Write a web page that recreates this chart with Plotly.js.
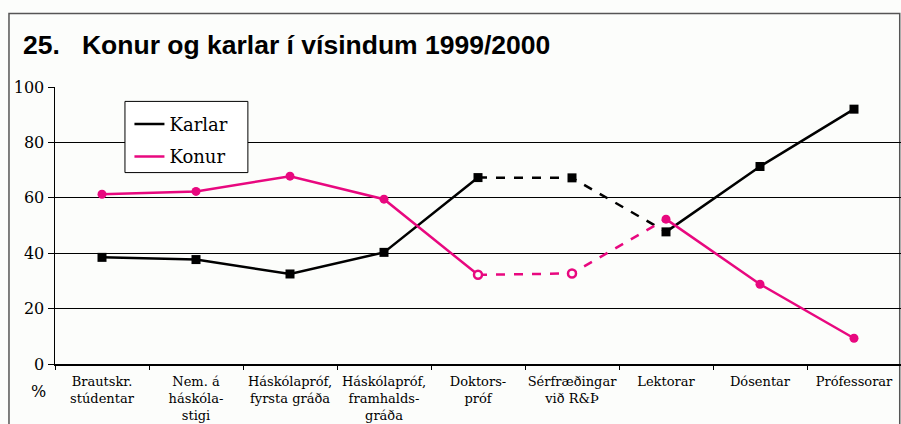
<!DOCTYPE html>
<html><head><meta charset="utf-8">
<script src="https://cdn.plot.ly/plotly-3.0.1.min.js"></script>
<style>html,body{margin:0;padding:0;background:#fcfdfb;}#chart{width:901px;height:424px;}</style>
</head><body><div id="chart"></div>
<script>
const categories = ["Brautskr.<br>stúdentar", "Nem. á<br>háskóla-<br>stigi", "Háskólapróf,<br>fyrsta gráða", "Háskólapróf,<br>framhalds-<br>gráða", "Doktors-<br>próf", "Sérfræðingar<br>við R&Þ", "Lektorar", "Dósentar", "Prófessorar"];
const karlar = [38.5, 37.7, 32.5, 40.3, 67.3, 67.2, 47.7, 71.3, 92.0];
const konur  = [61.3, 62.3, 67.8, 59.5, 32.2, 32.7, 52.3, 28.8, 9.3];
const dashedFrom = 4, dashedTo = 6;   // segment drawn dashed
const openKonur = [4, 5];             // hollow markers for Konur

const BLACK = '#000000', PINK = '#e8087f', BG = '#fcfdfb';
const solid = a => a.map((v,i) => (i > dashedFrom && i < dashedTo) ? null : v);
const dashed = a => a.map((v,i) => (i >= dashedFrom && i <= dashedTo) ? v : null);

const traces = [
  {x: categories, y: solid(karlar), name: 'Karlar', legendgroup: 'k', mode: 'lines', line: {color: BLACK, width: 2.5}, connectgaps: false},
  {x: categories, y: dashed(karlar), name: 'Karlar', mode: 'lines', line: {color: BLACK, width: 2.5, dash: 'dash'}, showlegend: false},
  {x: categories, y: solid(konur), name: 'Konur', legendgroup: 'w', mode: 'lines', line: {color: PINK, width: 2.5}, connectgaps: false},
  {x: categories, y: dashed(konur), name: 'Konur', mode: 'lines', line: {color: PINK, width: 2.5, dash: 'dash'}, showlegend: false},
  {x: categories, y: konur.map((v,i) => openKonur.includes(i) ? null : v), mode: 'markers', showlegend: false,
   marker: {symbol: 'circle', color: PINK, size: 9}},
  {x: categories, y: konur.map((v,i) => openKonur.includes(i) ? v : null), mode: 'markers', showlegend: false,
   marker: {symbol: 'circle', color: BG, size: 8, line: {color: PINK, width: 2.5}}},
  {x: categories, y: karlar, mode: 'markers', showlegend: false,
   marker: {symbol: 'square', color: BLACK, size: 9}}
];

const serif = '"DejaVu Serif", "Liberation Serif", serif';
const layout = {
  width: 901, height: 424,
  margin: {l: 55, r: 0, t: 87, b: 60},
  paper_bgcolor: BG, plot_bgcolor: BG,
  title: {text: '25.\u00a0\u00a0\u00a0Konur og karlar í vísindum 1999/2000', x: 23/901, xref: 'container', xanchor: 'left',
          y: 0.895, yref: 'container', yanchor: 'middle',
          font: {family: '"Liberation Sans", Arial, sans-serif', size: 26.5, color: '#000', weight: 'bold'}},
  xaxis: {type: 'category', range: [-0.5, 8.5], showgrid: false, showline: true, linecolor: '#000', linewidth: 1.5,
          ticks: 'outside', tickson: 'boundaries', ticklen: 4, tickcolor: '#000', tickangle: 0, ticklabelstandoff: 5,
          tickfont: {family: serif, size: 13, color: '#000'}, fixedrange: true},
  yaxis: {range: [0, 100], tickvals: [0,20,40,60,80,100], showgrid: true, gridcolor: '#000', gridwidth: 1,
          showline: true, linecolor: '#000', linewidth: 1.5, ticks: 'outside', ticklen: 6, tickcolor: '#000',
          zeroline: false, tickfont: {family: serif, size: 16, color: '#000'}, fixedrange: true},
  legend: {x: 0.088, y: 0.932, xanchor: 'left', yanchor: 'top', bgcolor: 'rgba(0,0,0,0)', borderwidth: 0,
           font: {family: serif, size: 18, color: '#000'}, tracegroupgap: 6},
  annotations: [{text: '%', xref: 'paper', yref: 'paper', x: -0.02, y: -0.1, xanchor: 'center', yanchor: 'middle',
                 showarrow: false, font: {family: serif, size: 16, color: '#000'}}],
  shapes: [
    {type: 'rect', xref: 'paper', yref: 'paper', x0: -0.0544, x1: 0.9985, y0: -0.3, y1: 1.265,
     line: {color: '#555', width: 1.5}, fillcolor: 'rgba(0,0,0,0)', layer: 'below'},
    {type: 'rect', xref: 'paper', yref: 'paper', x0: 0.0827, x1: 0.228, y0: 0.691, y1: 0.948,
     line: {color: '#000', width: 1}, fillcolor: '#ffffff', layer: 'above'}
  ]
};
Plotly.newPlot('chart', traces, layout, {displayModeBar: false, staticPlot: true});
</script></body></html>
